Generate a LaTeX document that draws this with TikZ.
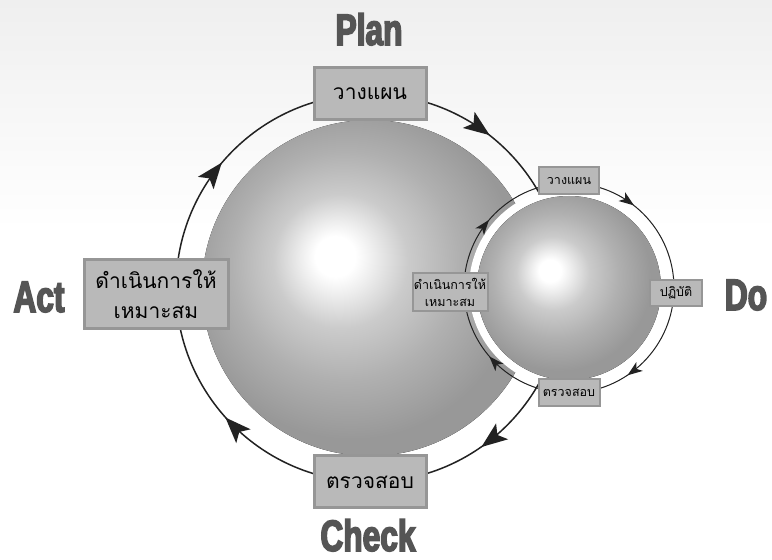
\documentclass[tikz,border=0pt]{standalone}
\usepackage{fontspec}
\usetikzlibrary{arrows.meta,decorations.markings}
\newfontfamily\thaifont[Script=Thai]{Loma}
\newfontfamily\titlefont[FakeStretch=0.72,FakeBold=3.5]{Liberation Sans Bold}
\definecolor{bgtop}{HTML}{EFEFEF}
\definecolor{boxfill}{HTML}{B9B9B9}
\definecolor{boxline}{HTML}{969696}
\definecolor{titlecol}{HTML}{555555}
\definecolor{arrowcol}{HTML}{222222}
\definecolor{sphA}{HTML}{EDEDED}
\definecolor{sphB}{HTML}{CBCBCB}
\definecolor{sphC}{HTML}{B0B0B0}
\definecolor{sphD}{HTML}{989898}
\pgfdeclareradialshading{sphereshade}{\pgfpoint{-5.5bp}{5bp}}{%
  color(0bp)=(white); color(3bp)=(white); color(5.5bp)=(sphA);
  color(10bp)=(sphB); color(17bp)=(sphC); color(25bp)=(sphD); color(50bp)=(sphD)}
\newcommand{\bighead}{\fill[arrowcol] (7pt,0pt) -- (-19pt,10pt) -- (-13pt,0pt) -- (-19pt,-10pt) -- cycle;}
\newcommand{\smallhead}{\fill[arrowcol] (4pt,0pt) -- (-11pt,5.5pt) -- (-7pt,0pt) -- (-11pt,-5.5pt) -- cycle;}
\tikzset{
  bigbox/.style={draw=boxline, fill=boxfill, line width=3pt, inner sep=2pt,
    font=\thaifont\fontsize{21}{30}\selectfont, text=black, align=center},
  smallbox/.style={draw=boxline, fill=boxfill, line width=2pt, inner sep=1pt,
    font=\thaifont\fontsize{12.5}{17}\selectfont, text=black, align=center},
  titletext/.style={font=\titlefont\fontsize{44}{44}\selectfont, text=titlecol, anchor=base, inner sep=0pt},
  sphere/.style={shading=sphereshade},
  bigring/.style={draw=arrowcol, line width=1.5pt, postaction={decorate},
    decoration={markings,
      mark=at position 0.147 with {\bighead},
      mark=at position 0.378 with {\bighead},
      mark=at position 0.606 with {\bighead},
      mark=at position 0.85 with {\bighead}}},
  smallring/.style={draw=arrowcol, line width=1pt, postaction={decorate},
    decoration={markings,
      mark=at position 0.15 with {\smallhead},
      mark=at position 0.381 with {\smallhead},
      mark=at position 0.606 with {\smallhead},
      mark=at position 0.85 with {\smallhead}}}
}
\begin{document}
\begin{tikzpicture}[x=1pt,y=1pt]
\useasboundingbox (0,0) rectangle (772,560);
% background
\fill[white] (0,0) rectangle (772,560);
\shade[top color=bgtop, bottom color=white] (0,330) rectangle (772,560);
% centres
\coordinate (bigc) at (370,272);
\coordinate (smallc) at (569,272);
% big sphere and ring
\fill[sphere] (bigc) circle[radius=168pt];
\path[bigring] (bigc) ++(0:194pt) arc[start angle=360,end angle=0,radius=194pt];
% small sphere with white halo
\fill[white] (smallc) circle[radius=100pt];
\fill[sphere] (smallc) circle[radius=92pt];
\path[smallring] (smallc) ++(0:105pt) arc[start angle=360,end angle=0,radius=105pt];
% big boxes
\node[bigbox, minimum width=112pt, minimum height=52pt] (plan) at (370,466) {วางแผน};
\node[bigbox, minimum width=112pt, minimum height=52pt] (check) at (370,78) {ตรวจสอบ};
\node[bigbox, minimum width=144pt, minimum height=69pt] (act) at (156,266) {ดำเนินการให้\\เหมาะสม};
% small boxes
\node[smallbox, minimum width=60pt, minimum height=27pt] (splan) at (569,379) {วางแผน};
\node[smallbox, minimum width=52pt, minimum height=26pt] (sdo) at (676,267) {ปฏิบัติ};
\node[smallbox, minimum width=61pt, minimum height=27pt] (scheck) at (569,167) {ตรวจสอบ};
\node[smallbox, minimum width=75pt, minimum height=38pt] (sact) at (450,268) {ดำเนินการให้\\เหมาะสม};
% titles
\node[titletext] (tplan) at (369,515) {Plan};
\node[titletext] (tact) at (39,248) {Act};
\node[titletext] (tdo) at (746,250) {Do};
\node[titletext] (tcheck) at (368,9) {Check};
\end{tikzpicture}
\end{document}
